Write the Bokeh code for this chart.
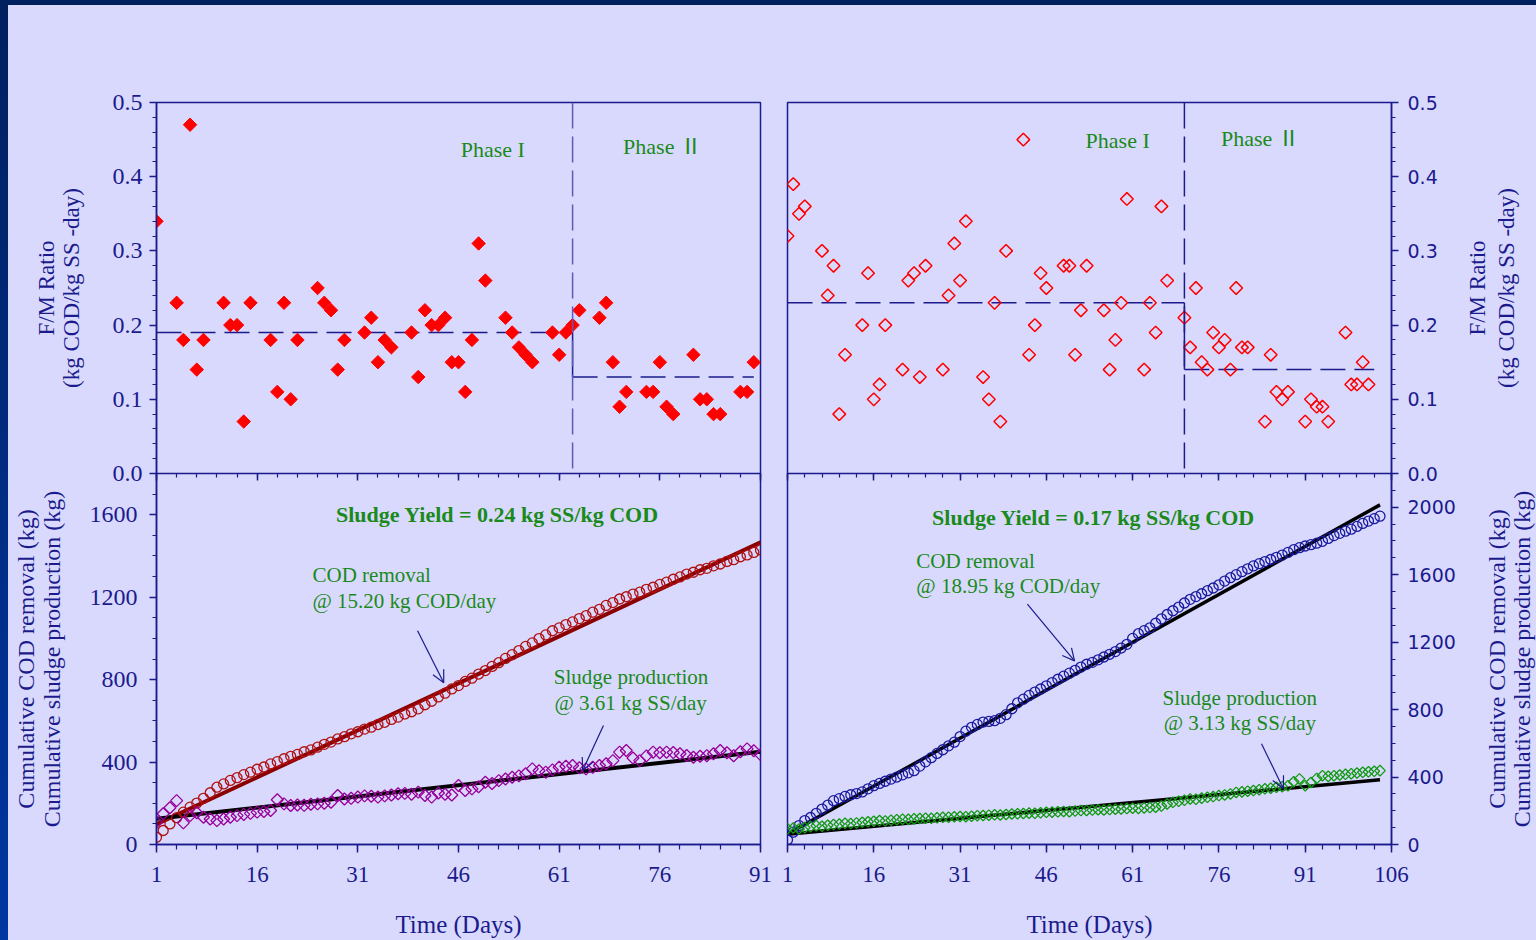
import numpy as np
from bokeh.plotting import figure
from bokeh.layouts import column, row
from bokeh.models import (Range1d, LinearAxis, FixedTicker, SingleIntervalTicker,
                          PrintfTickFormatter, Label, Arrow, OpenHead, Span,
                          CustomLabelingPolicy)
from bokeh.embed import file_html
from bokeh.resources import INLINE

LAV = "#d9d9fe"
NAVY = "#1b1b8c"
GREEN = "#1a8a1a"
SERIF = "Liberation Serif"
PHASE_FONT = "Liberation Serif, 'Noto Sans CJK JP'"
SANS = "DejaVu Sans"

# ---------------- F/M ratio, reactor A (days 1-91) ----------------
fm_a_day = [1, 4, 5, 6, 7, 8, 11, 12, 13, 14, 15, 18, 19, 20, 21, 22, 25, 26, 27, 28, 29,
            32, 33, 34, 35, 36, 39, 40, 41, 42, 43, 44, 45, 46, 47, 48, 49, 50, 53, 54, 55,
            56, 57, 60, 61, 62, 63, 64, 67, 68, 69, 70, 71, 74, 75, 76, 77, 78, 81, 82, 83,
            84, 85, 88, 89, 90]
fm_a_val = [0.34, 0.23, 0.18, 0.47, 0.14, 0.18, 0.23, 0.20, 0.20, 0.07, 0.23, 0.18, 0.11,
            0.23, 0.10, 0.18, 0.25, 0.23, 0.22, 0.14, 0.18, 0.19, 0.21, 0.15, 0.18, 0.17,
            0.19, 0.13, 0.22, 0.20, 0.20, 0.21, 0.15, 0.15, 0.11, 0.18, 0.31, 0.26, 0.21,
            0.19, 0.17, 0.16, 0.15, 0.19, 0.16, 0.19, 0.20, 0.22, 0.21, 0.23, 0.15, 0.09,
            0.11, 0.11, 0.11, 0.15, 0.09, 0.08, 0.16, 0.10, 0.10, 0.08, 0.08, 0.11, 0.11, 0.15]
fm_a_phase_day = [1, 63, 90]          # start, phase change, end
fm_a_phase_mean = [0.19, 0.13]

# ---------------- F/M ratio, reactor B (days 1-106) ----------------
fm_b_day = [1, 2, 3, 4, 7, 8, 9, 10, 11, 14, 15, 16, 17, 18, 21, 22, 23, 24, 25, 28, 29, 30,
            31, 32, 35, 36, 37, 38, 39, 42, 43, 44, 45, 46, 49, 50, 51, 52, 53, 56, 57, 58,
            59, 60, 63, 64, 65, 66, 67, 70, 71, 72, 73, 74, 75, 76, 77, 78, 79, 80, 81, 84,
            85, 86, 87, 88, 91, 92, 93, 94, 95, 98, 99, 100, 101, 102]
fm_b_val = [0.32, 0.39, 0.35, 0.36, 0.30, 0.24, 0.28, 0.08, 0.16, 0.20, 0.27, 0.10, 0.12,
            0.20, 0.14, 0.26, 0.27, 0.13, 0.28, 0.14, 0.24, 0.31, 0.26, 0.34, 0.13, 0.10,
            0.23, 0.07, 0.30, 0.45, 0.16, 0.20, 0.27, 0.25, 0.28, 0.28, 0.16, 0.22, 0.28,
            0.22, 0.14, 0.18, 0.23, 0.37, 0.14, 0.23, 0.19, 0.36, 0.26, 0.21, 0.17, 0.25,
            0.15, 0.14, 0.19, 0.17, 0.18, 0.14, 0.25, 0.17, 0.17, 0.07, 0.16, 0.11, 0.10,
            0.11, 0.07, 0.10, 0.09, 0.09, 0.07, 0.19, 0.12, 0.12, 0.15, 0.12]
fm_b_phase_day = [1, 70, 103]
fm_b_phase_mean = [0.23, 0.14]

# ---------------- Cumulative COD removal / sludge production, reactor A ----------------
cod_a = [35, 68, 100, 130, 157, 181, 201, 224, 251, 278,
         294, 311, 324, 339, 351, 365, 376, 391, 402, 416,
         428, 437, 450, 459, 472, 486, 497, 512, 523, 537,
         547, 560, 569, 582, 593, 607, 618, 633, 644, 658,
         678, 695, 716, 734, 755, 771, 791, 807, 827, 844,
         864, 882, 903, 921, 941, 961, 978, 999, 1017, 1037,
         1051, 1067, 1080, 1096, 1110, 1127, 1141, 1160, 1174, 1191,
         1202, 1215, 1224, 1238, 1248, 1262, 1273, 1287, 1298, 1312,
         1321, 1333, 1340, 1352, 1361, 1373, 1382, 1396, 1405, 1417,
         1429]
ss_a = [108, 149, 178, 213, 105, 140, 154, 132, 124, 116,
        124, 132, 140, 146, 151, 157, 160, 165, 217, 197,
        189, 192, 190, 195, 197, 200, 205, 238, 221, 224,
        230, 236, 234, 230, 236, 240, 246, 248, 244, 254,
        238, 230, 250, 244, 240, 286, 262, 270, 280, 302,
        296, 310, 318, 326, 333, 343, 367, 358, 351, 362,
        375, 380, 383, 372, 367, 375, 383, 392, 407, 448,
        456, 420, 407, 430, 448, 445, 448, 446, 440, 432,
        423, 428, 431, 440, 456, 445, 431, 450, 464, 455,
        436]
day_a = list(range(1, len(cod_a) + 1))
cod_a_rate, cod_a_start = 15.20, 98.0     # kg COD/day, fitted value on day 1
ss_a_rate, ss_a_start = 3.61, 125.0       # kg SS/day

# ---------------- Cumulative COD removal / sludge production, reactor B ----------------
cod_b = [28, 73, 112, 142, 160, 185, 210, 233, 260, 272,
         285, 295, 302, 312, 330, 349, 362, 375, 388, 400,
         413, 425, 438, 465, 490, 515, 540, 562, 585, 607,
         640, 672, 695, 712, 726, 730, 734, 748, 770, 805,
         840, 862, 884, 904, 922, 941, 960, 980, 998, 1016,
         1033, 1052, 1069, 1080, 1095, 1112, 1128, 1144, 1165, 1187,
         1222, 1250, 1268, 1285, 1312, 1338, 1364, 1386, 1408, 1432,
         1454, 1470, 1487, 1505, 1521, 1540, 1562, 1582, 1600, 1618,
         1635, 1652, 1665, 1678, 1690, 1703, 1716, 1732, 1748, 1760,
         1770, 1778, 1787, 1798, 1815, 1832, 1845, 1858, 1870, 1886,
         1904, 1918, 1932, 1947]
ss_b = [93, 98, 92, 100, 106, 112, 108, 114, 118, 121,
        126, 124, 128, 132, 135, 138, 142, 140, 144, 147,
        150, 149, 152, 154, 156, 155, 158, 161, 162, 164,
        166, 165, 168, 171, 172, 174, 176, 175, 178, 181,
        182, 184, 186, 185, 188, 191, 192, 194, 196, 195,
        198, 201, 202, 204, 206, 205, 207, 209, 211, 213,
        215, 214, 217, 219, 221, 228, 240, 250, 256, 262,
        270, 268, 275, 280, 284, 290, 294, 300, 309, 312,
        316, 320, 325, 330, 334, 339, 343, 349, 372, 389,
        349, 368, 392, 408, 404, 408, 412, 416, 420, 424,
        428, 431, 434, 438]
day_b = list(range(1, len(cod_b) + 1))
cod_b_rate, cod_b_start = 18.95, 62.0
ss_b_rate, ss_b_start = 3.13, 61.0

day_ticks_a = [1, 16, 31, 46, 61, 76, 91]
day_ticks_b = [1, 16, 31, 46, 61, 76, 91, 106]

OVERLAP = 14   # lower panels slide up under the upper panels' bottom border
STRIP = 76     # width of the strip carrying the right-hand axis titles


def base_fig(width, height, xmax, ymax, yside, mbl, mbr, mbt, mbb, clear_border=False):
    p = figure(width=width, height=height, x_range=Range1d(1, xmax), y_range=Range1d(0, ymax),
               output_backend="svg", toolbar_location=None,
               x_axis_location=None, y_axis_location=yside,
               min_border_left=mbl, min_border_right=mbr, min_border_top=mbt, min_border_bottom=mbb,
               background_fill_color=LAV, border_fill_color=LAV,
               outline_line_color=NAVY, outline_line_width=1.5)
    if clear_border:
        p.border_fill_alpha = 0
    p.grid.visible = False
    return p


def style_axis(ax, font, size, standoff, out=7, minor_out=4, tin=0, minor_in=0):
    ax.axis_line_color = NAVY
    ax.axis_line_width = 1.5
    ax.major_tick_line_color = NAVY
    ax.minor_tick_line_color = NAVY
    ax.major_tick_line_width = 1.5
    ax.minor_tick_line_width = 1.2
    ax.major_tick_out = out
    ax.minor_tick_out = minor_out
    ax.major_tick_in = tin
    ax.minor_tick_in = minor_in
    ax.major_label_text_color = NAVY
    ax.major_label_text_font = font
    ax.major_label_text_font_size = size
    ax.major_label_standoff = standoff


def title_axis(p, text, standoff, size):
    # an axis with no ticks that only carries one line of a two-line axis title
    ax = LinearAxis(ticker=FixedTicker(ticks=[]), axis_label=text)
    ax.axis_line_color = None
    ax.major_tick_out = 0
    ax.minor_tick_out = 0
    ax.axis_label_text_font = SERIF
    ax.axis_label_text_font_size = size
    ax.axis_label_text_font_style = "normal"
    ax.axis_label_text_color = NAVY
    ax.axis_label_standoff = standoff
    p.add_layout(ax, "left")


def title_strip(height, mbt, mbb, lines, standoffs, size, clear_border=False):
    # narrow plot whose 1px frame sits at the right page edge; its left-side
    # axis titles read bottom-to-top next to the right-hand tick labels
    t = figure(width=STRIP, height=height, x_range=Range1d(0, 1), y_range=Range1d(0, 1),
               output_backend="svg", toolbar_location=None,
               x_axis_location=None, y_axis_location=None,
               min_border_left=STRIP - 1, min_border_right=0, min_border_top=mbt, min_border_bottom=mbb,
               background_fill_color=LAV, border_fill_color=LAV, outline_line_color=None)
    if clear_border:
        t.border_fill_alpha = 0
        t.background_fill_alpha = 0
    t.grid.visible = False
    for text, s in zip(lines, standoffs):
        title_axis(t, text, s, size)
    return t


def day_axes(p, ticks, xmax):
    minor = list(range(1, xmax + 1, 3))
    bottom = LinearAxis(ticker=FixedTicker(ticks=ticks, minor_ticks=minor), axis_label="Time (Days)")
    style_axis(bottom, SERIF, "23px", 14, out=8, minor_out=5)
    bottom.axis_label_text_font = SERIF
    bottom.axis_label_text_font_size = "25px"
    bottom.axis_label_text_font_style = "normal"
    bottom.axis_label_text_color = NAVY
    bottom.axis_label_standoff = 26
    p.add_layout(bottom, "below")
    # tick marks hanging into the panel from the shared top edge, no labels
    top = LinearAxis(ticker=FixedTicker(ticks=ticks, minor_ticks=minor),
                     major_label_policy=CustomLabelingPolicy(
                         code="for (const i of indices) { indices.unset(i) } return indices"))
    style_axis(top, SERIF, "0px", 0, out=0, minor_out=0, tin=7, minor_in=4)
    top.axis_line_color = None
    p.add_layout(top, "above")


def note(p, x, y, text, align="left", bold=False, size="21px", font=SERIF):
    p.add_layout(Label(x=x, y=y, text=text, text_align=align, text_baseline="middle",
                       text_font=font, text_font_size=size, text_color=GREEN,
                       text_font_style="bold" if bold else "normal"))


def arrow(p, x0, y0, x1, y1):
    p.add_layout(Arrow(end=OpenHead(size=12, line_color=NAVY, line_width=1.2),
                       x_start=x0, y_start=y0, x_end=x1, y_end=y1,
                       line_color=NAVY, line_width=1.2))


def phase_lines(p, days, means, vcolor):
    p.add_layout(Span(location=days[1], dimension="height", line_color=vcolor,
                      line_width=1.5, line_dash="26 8"))
    p.line([days[0], days[1]], [means[0], means[0]], line_color=NAVY, line_width=1.5, line_dash="25 9")
    p.line([days[1], days[2]], [means[1], means[1]], line_color=NAVY, line_width=1.5, line_dash="25 9")
    p.line([days[1], days[1]], [means[0], means[1]], line_color=NAVY, line_width=1.5)


# ---------------- top-left: F/M ratio A ----------------
p_tl = base_fig(765, 468 + OVERLAP, 91, 0.5, "left", 148, 13, 97, OVERLAP)
ya = p_tl.yaxis[0]
ya.ticker = SingleIntervalTicker(interval=0.1, num_minor_ticks=5)
ya.formatter = PrintfTickFormatter(format="%.1f")
style_axis(ya, SERIF, "24px", 7)
title_axis(p_tl, "(kg COD/kg SS -day)", 26, "23px")
title_axis(p_tl, "F/M Ratio", -3, "23px")
phase_lines(p_tl, fm_a_phase_day, fm_a_phase_mean, "#5c5cb8")
p_tl.scatter(fm_a_day, fm_a_val, marker="square", angle=np.pi / 4, size=9.5,
             fill_color="#ff0000", line_color="#ff0000")
note(p_tl, 51.1, 0.437, "Phase I", align="center", size="22px", font=PHASE_FONT)
note(p_tl, 76.4, 0.441, "Phase \u2161", align="center", size="22px", font=PHASE_FONT)

# ---------------- top-right: F/M ratio B ----------------
p_tr = base_fig(763 - STRIP, 468 + OVERLAP, 106, 0.5, "right", 14, 145 - STRIP, 97, OVERLAP)
yb = p_tr.yaxis[0]
yb.ticker = SingleIntervalTicker(interval=0.1, num_minor_ticks=5)
yb.formatter = PrintfTickFormatter(format="%.1f")
style_axis(yb, SANS, "19px", 9)
phase_lines(p_tr, fm_b_phase_day, fm_b_phase_mean, NAVY)
p_tr.scatter(fm_b_day, fm_b_val, marker="square", angle=np.pi / 4, size=9,
             fill_color=None, line_color="#ff0000", line_width=1.5)
note(p_tr, 58.4, 0.449, "Phase I", align="center", size="22px", font=PHASE_FONT)
note(p_tr, 83.2, 0.452, "Phase \u2161", align="center", size="22px", font=PHASE_FONT)
t_tr = title_strip(468 + OVERLAP, 97, OVERLAP, ["(kg COD/kg SS -day)", "F/M Ratio"], [17, 1], "23px")

# ---------------- bottom-left: cumulative A ----------------
p_bl = base_fig(765, 467, 91, 1800, "left", 148, 13, 0, 96, clear_border=True)
yc = p_bl.yaxis[0]
yc.ticker = SingleIntervalTicker(interval=400, num_minor_ticks=4)
style_axis(yc, SERIF, "24px", 12)
title_axis(p_bl, "Cumulative sludge production (kg)", 22, "24px")
title_axis(p_bl, "Cumulative COD removal (kg)", -3, "24px")
day_axes(p_bl, day_ticks_a, 91)
fit_x_a = np.array([day_a[0], day_a[-1]], dtype=float)
p_bl.line(fit_x_a, cod_a_start + cod_a_rate * (fit_x_a - 1), line_color="#8b0000", line_width=4)
p_bl.line(fit_x_a, ss_a_start + ss_a_rate * (fit_x_a - 1), line_color="black", line_width=4)
p_bl.scatter(day_a, cod_a, marker="circle", size=10, fill_color=None,
             line_color="#b01010", line_width=1.3)
p_bl.scatter(day_a, ss_a, marker="square", angle=np.pi / 4, size=8.5, fill_color=None,
             line_color="#990099", line_width=1.3)
note(p_bl, 51.8, 1600, "Sludge Yield = 0.24 kg SS/kg COD", align="center", bold=True, size="22px")
note(p_bl, 24.25, 1309, "COD removal")
note(p_bl, 24.25, 1183, "@ 15.20 kg COD/day")
note(p_bl, 60.2, 814, "Sludge production")
note(p_bl, 60.3, 688, "@ 3.61 kg SS/day")
arrow(p_bl, 39.9, 1037, 43.8, 785)
arrow(p_bl, 67.6, 577, 64.5, 359)

# ---------------- bottom-right: cumulative B ----------------
p_br = base_fig(763 - STRIP, 467, 106, 2200, "right", 14, 145 - STRIP, 0, 96, clear_border=True)
yd = p_br.yaxis[0]
yd.ticker = SingleIntervalTicker(interval=400, num_minor_ticks=4)
style_axis(yd, SANS, "19px", 9)
day_axes(p_br, day_ticks_b, 106)
fit_x_b = np.array([day_b[0], day_b[-1]], dtype=float)
p_br.line(fit_x_b, cod_b_start + cod_b_rate * (fit_x_b - 1), line_color="black", line_width=3.5)
p_br.line(fit_x_b, ss_b_start + ss_b_rate * (fit_x_b - 1), line_color="black", line_width=3.5)
p_br.scatter(day_b, cod_b, marker="circle", size=10, fill_color=None,
             line_color="#1a1aa0", line_width=1.3)
p_br.scatter(day_b, ss_b, marker="square", angle=np.pi / 4, size=7.5, fill_color=None,
             line_color="#119911", line_width=1.3)
note(p_br, 54.2, 1941, "Sludge Yield = 0.17 kg SS/kg COD", align="center", bold=True, size="22px")
note(p_br, 23.4, 1680, "COD removal")
note(p_br, 23.4, 1532, "@ 18.95 kg COD/day")
note(p_br, 66.2, 870, "Sludge production")
note(p_br, 66.4, 722, "@ 3.13 kg SS/day")
arrow(p_br, 42.7, 1426, 50.9, 1089)
arrow(p_br, 83.4, 598, 87.2, 331)
t_br = title_strip(467, 0, 96, ["Cumulative sludge production (kg)", "Cumulative COD removal (kg)"],
                   [1, -4], "24px", clear_border=True)

panels = column(row(p_tl, p_tr, t_tr),
                row(p_bl, p_br, t_br, margin=(-OVERLAP, 0, 0, 0)),
                styles={"background-color": LAV})
page = column(panels,
              styles={"background": "linear-gradient(180deg, #00205e 0%, #0036a2 100%)",
                      "padding": "5px 0px 0px 8px"})

open("out.html", "w").write(file_html(page, INLINE))
